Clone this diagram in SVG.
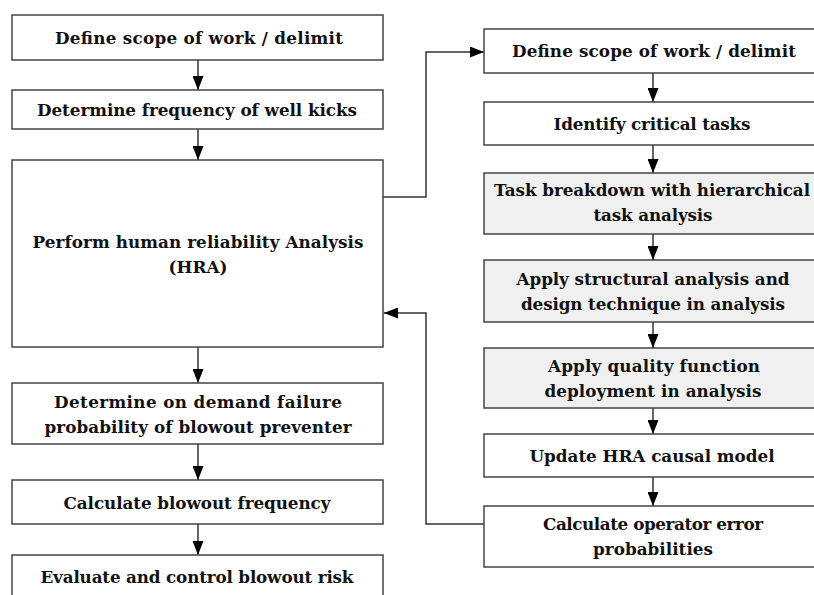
<svg xmlns="http://www.w3.org/2000/svg" width="814" height="595" viewBox="0 0 814 595">
<defs>
<marker id="ah" markerUnits="userSpaceOnUse" markerWidth="14" markerHeight="11" refX="14" refY="5.5" orient="auto">
<path d="M0,0 L14,5.5 L0,11 z" fill="#000"/>
</marker>
</defs>
<style>
.box{fill:#fff;stroke:#444;stroke-width:1.5}
.grey{fill:#f0f0f0}
.t{font-family:"DejaVu Serif","Liberation Serif",serif;font-weight:bold;font-size:16.8px;fill:#111;text-anchor:middle}
.c{fill:none;stroke:#333;stroke-width:1.5}
</style>
<rect width="814" height="595" fill="#fff"/>
<g id="connectors">
<line class="c" x1="198" y1="60" x2="198" y2="90" marker-end="url(#ah)"/>
<line class="c" x1="198" y1="129" x2="198" y2="160" marker-end="url(#ah)"/>
<line class="c" x1="198" y1="347" x2="198" y2="383" marker-end="url(#ah)"/>
<line class="c" x1="198" y1="444" x2="198" y2="480" marker-end="url(#ah)"/>
<line class="c" x1="198" y1="524" x2="198" y2="555" marker-end="url(#ah)"/>
<line class="c" x1="653" y1="73" x2="653" y2="102" marker-end="url(#ah)"/>
<line class="c" x1="653" y1="145" x2="653" y2="173" marker-end="url(#ah)"/>
<line class="c" x1="653" y1="234" x2="653" y2="260" marker-end="url(#ah)"/>
<line class="c" x1="653" y1="322" x2="653" y2="348" marker-end="url(#ah)"/>
<line class="c" x1="653" y1="408" x2="653" y2="434" marker-end="url(#ah)"/>
<line class="c" x1="653" y1="477" x2="653" y2="506" marker-end="url(#ah)"/>
<polyline class="c" points="383,197 426,197 426,52 484,52" marker-end="url(#ah)"/>
<polyline class="c" points="484,524 426,524 426,313 384,313" marker-end="url(#ah)"/>
</g>
<g id="n1"><rect class="box" x="12" y="15" width="371" height="45"/><text class="t" x="199" y="44" textLength="288">Define scope of work / delimit</text></g>
<g id="n2"><rect class="box" x="12" y="90" width="371" height="39"/><text class="t" x="197" y="116" textLength="320">Determine frequency of well kicks</text></g>
<g id="n3"><rect class="box" x="12" y="160" width="371" height="187"/><text class="t" x="198" y="247.5" textLength="331">Perform human reliability Analysis</text><text class="t" x="198" y="272.5" textLength="59">(HRA)</text></g>
<g id="n4"><rect class="box" x="12" y="383" width="371" height="61"/><text class="t" x="198" y="407.5" textLength="288">Determine on demand failure</text><text class="t" x="198" y="432.5" textLength="307">probability of blowout preventer</text></g>
<g id="n5"><rect class="box" x="12" y="480" width="371" height="44"/><text class="t" x="197" y="508.5" textLength="267">Calculate blowout frequency</text></g>
<g id="n6"><rect class="box" x="12" y="555" width="371" height="50"/><text class="t" x="197" y="582.5" textLength="313">Evaluate and control blowout risk</text></g>
<g id="r1"><rect class="box" x="484" y="29" width="340" height="44"/><text class="t" x="654" y="57" textLength="284">Define scope of work / delimit</text></g>
<g id="r2"><rect class="box" x="484" y="102" width="340" height="43"/><text class="t" x="652" y="129.5" textLength="197">Identify critical tasks</text></g>
<g id="r3"><rect class="box grey" x="484" y="173" width="340" height="61"/><text class="t" x="652" y="196" textLength="316">Task breakdown with hierarchical</text><text class="t" x="653" y="221" textLength="119">task analysis</text></g>
<g id="r4"><rect class="box grey" x="484" y="260" width="340" height="62"/><text class="t" x="653" y="284.5" textLength="273">Apply structural analysis and</text><text class="t" x="653" y="309.5" textLength="264">design technique in analysis</text></g>
<g id="r5"><rect class="box grey" x="484" y="348" width="340" height="60"/><text class="t" x="654" y="371.5" textLength="212">Apply quality function</text><text class="t" x="653" y="396.5" textLength="217">deployment in analysis</text></g>
<g id="r6"><rect class="box" x="484" y="434" width="340" height="43"/><text class="t" x="652" y="461.5" textLength="245">Update HRA causal model</text></g>
<g id="r7"><rect class="box" x="484" y="506" width="340" height="61"/><text class="t" x="653" y="530" textLength="220">Calculate operator error</text><text class="t" x="653" y="555" textLength="120">probabilities</text></g>
</svg>
